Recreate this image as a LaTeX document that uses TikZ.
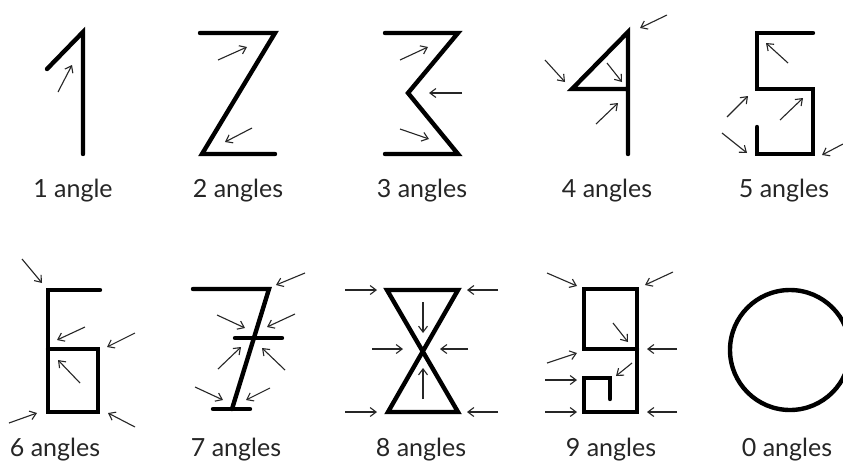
\documentclass[tikz,border=0pt]{standalone}
\usepackage{fontspec}
\setmainfont{Lato}
\usetikzlibrary{arrows.meta}
\begin{document}
\begin{tikzpicture}[x=1pt,y=-1pt,
  digit/.style={line width=4.4pt,line cap=round,line join=miter,black},
  arr/.style={line width=1.1pt,draw=black!85,-{Straight Barb[length=6pt,width=9pt]}},
  lab/.style={font=\fontsize{25}{28}\selectfont,text=black!85,inner sep=0pt,anchor=base}]
\useasboundingbox[fill=white] (0,0) rectangle (843,461);
% 1
\draw[digit] (47,69) -- (83,32) -- (83,154);
\draw[arr] (58,92) -- (72,65);
\node[lab] (l1) at (73,197) {1 angle};
% 2
\draw[digit] (200,33) -- (275,33) -- (202,154) -- (275,154);
\draw[arr] (218,60) -- (247,47);
\draw[arr] (252,128) -- (225,142);
\node[lab] (l2) at (238,197) {2 angles};
% 3
\draw[digit] (385,33) -- (458,33) -- (408,93) -- (458,154) -- (385,154);
\draw[arr] (400,60) -- (428,47);
\draw[arr] (462,93) -- (429,93);
\draw[arr] (400,129) -- (429,139);
\node[lab] (l3) at (422,197) {3 angles};
% 4
\draw[digit] (628,154) -- (628,32) -- (572,89) -- (628,89);
\draw[arr] (667,15) -- (640,28);
\draw[arr] (545,60) -- (565,82);
\draw[arr] (607,63) -- (622,82);
\draw[arr] (596,124) -- (618,103);
\node[lab] (l4) at (607,197) {4 angles};
% 5
\draw[digit] (813,33) -- (757,33) -- (757,89) -- (813,89) -- (813,154) -- (757,154) -- (757,127);
\draw[arr] (788,63) -- (766,43);
\draw[arr] (727,117) -- (748,96);
\draw[arr] (780,120) -- (803,98);
\draw[arr] (722,133) -- (747,153);
\draw[arr] (843,144) -- (822,155);
\node[lab] (l5) at (784,197) {5 angles};
% 6
\draw[digit] (100,290) -- (48,290) -- (48,412) -- (98,412) -- (98,349) -- (48,349);
\draw[arr] (22,259) -- (42,283);
\draw[arr] (85,327) -- (57,340);
\draw[arr] (135,333) -- (107,347);
\draw[arr] (80,383) -- (58,360);
\draw[arr] (9,423) -- (37,413);
\draw[arr] (135,427) -- (108,413);
\node[lab] (l6) at (55,456) {6 angles};
% 7
\draw[digit] (193,289) -- (269,289) -- (232,409);
\draw[digit] (235,338) -- (282,338);
\draw[digit] (213,409) -- (250,409);
\draw[arr] (305,273) -- (276,285);
\draw[arr] (217,315) -- (245,328);
\draw[arr] (295,314) -- (267,327);
\draw[arr] (218,369) -- (241,347);
\draw[arr] (285,370) -- (262,348);
\draw[arr] (195,387) -- (223,400);
\draw[arr] (270,388) -- (246,400);
\node[lab] (l7) at (236,456) {7 angles};
% 8
\draw[digit] (387,290) -- (458,290) -- (388,412) -- (458,412) -- cycle;
\draw[arr] (345,290) -- (377,290);
\draw[arr] (498,290) -- (467,290);
\draw[arr] (372,349) -- (403,349);
\draw[arr] (468,349) -- (440,349);
\draw[arr] (423,302) -- (423,333);
\draw[arr] (423,399) -- (423,368);
\draw[arr] (345,412) -- (377,412);
\draw[arr] (498,412) -- (467,412);
\node[lab] (l8) at (421,456) {8 angles};
% 9
\draw[digit] (637,349) -- (584,349) -- (584,289) -- (637,289) -- (637,412) -- (584,412) -- (584,378) -- (610,378) -- (610,399);
\draw[arr] (547,273) -- (577,286);
\draw[arr] (673,272) -- (645,285);
\draw[arr] (613,323) -- (628,342);
\draw[arr] (677,349) -- (647,349);
\draw[arr] (547,363) -- (577,353);
\draw[arr] (632,363) -- (616,376);
\draw[arr] (545,380) -- (577,380);
\draw[arr] (545,412) -- (577,412);
\draw[arr] (677,412) -- (647,412);
\node[lab] (l9) at (611,456) {9 angles};
% 0
\draw[line width=4.4pt] (790,350) circle (60);
\node[lab] (l0) at (787,456) {0 angles};
\end{tikzpicture}
\end{document}
